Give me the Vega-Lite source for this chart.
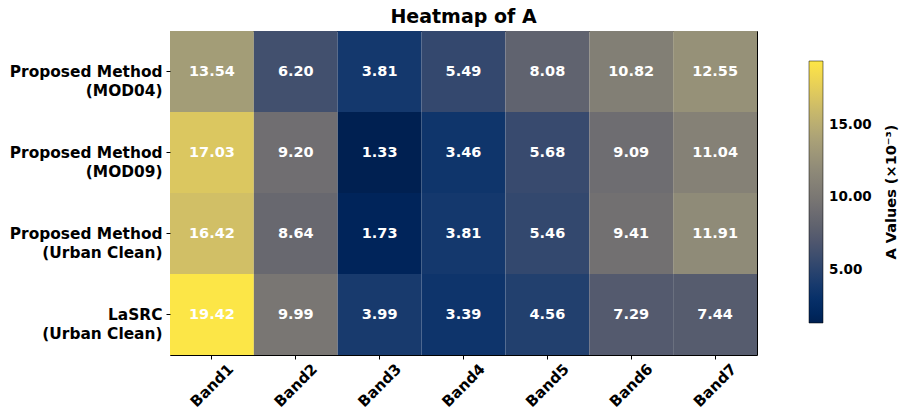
{
  "$schema": "https://vega.github.io/schema/vega-lite/v6.json",
  "autosize": {"type": "none"},
  "padding": {"left": 170, "top": 31, "right": 144, "bottom": 63},
  "width": 587,
  "height": 324,
  "background": "white",
  "title": {
    "text": "Heatmap of A",
    "font": "DejaVu Sans",
    "fontSize": 19,
    "fontWeight": "bold",
    "color": "black",
    "offset": 4,
    "anchor": "middle"
  },
  "config": {
    "view": {"stroke": "black", "strokeWidth": 1},
    "font": "DejaVu Sans"
  },
  "data": {
    "values": [
      {"method": "Proposed Method\n(MOD04)", "band": "Band1", "value": 13.54},
      {"method": "Proposed Method\n(MOD04)", "band": "Band2", "value": 6.20},
      {"method": "Proposed Method\n(MOD04)", "band": "Band3", "value": 3.81},
      {"method": "Proposed Method\n(MOD04)", "band": "Band4", "value": 5.49},
      {"method": "Proposed Method\n(MOD04)", "band": "Band5", "value": 8.08},
      {"method": "Proposed Method\n(MOD04)", "band": "Band6", "value": 10.82},
      {"method": "Proposed Method\n(MOD04)", "band": "Band7", "value": 12.55},
      {"method": "Proposed Method\n(MOD09)", "band": "Band1", "value": 17.03},
      {"method": "Proposed Method\n(MOD09)", "band": "Band2", "value": 9.20},
      {"method": "Proposed Method\n(MOD09)", "band": "Band3", "value": 1.33},
      {"method": "Proposed Method\n(MOD09)", "band": "Band4", "value": 3.46},
      {"method": "Proposed Method\n(MOD09)", "band": "Band5", "value": 5.68},
      {"method": "Proposed Method\n(MOD09)", "band": "Band6", "value": 9.09},
      {"method": "Proposed Method\n(MOD09)", "band": "Band7", "value": 11.04},
      {"method": "Proposed Method\n(Urban Clean)", "band": "Band1", "value": 16.42},
      {"method": "Proposed Method\n(Urban Clean)", "band": "Band2", "value": 8.64},
      {"method": "Proposed Method\n(Urban Clean)", "band": "Band3", "value": 1.73},
      {"method": "Proposed Method\n(Urban Clean)", "band": "Band4", "value": 3.81},
      {"method": "Proposed Method\n(Urban Clean)", "band": "Band5", "value": 5.46},
      {"method": "Proposed Method\n(Urban Clean)", "band": "Band6", "value": 9.41},
      {"method": "Proposed Method\n(Urban Clean)", "band": "Band7", "value": 11.91},
      {"method": "LaSRC\n(Urban Clean)", "band": "Band1", "value": 19.42},
      {"method": "LaSRC\n(Urban Clean)", "band": "Band2", "value": 9.99},
      {"method": "LaSRC\n(Urban Clean)", "band": "Band3", "value": 3.99},
      {"method": "LaSRC\n(Urban Clean)", "band": "Band4", "value": 3.39},
      {"method": "LaSRC\n(Urban Clean)", "band": "Band5", "value": 4.56},
      {"method": "LaSRC\n(Urban Clean)", "band": "Band6", "value": 7.29},
      {"method": "LaSRC\n(Urban Clean)", "band": "Band7", "value": 7.44}
    ]
  },
  "encoding": {
    "x": {
      "field": "band",
      "type": "nominal",
      "sort": null,
      "scale": {"paddingInner": 0, "paddingOuter": 0},
      "axis": {
        "title": null,
        "labelAngle": -45,
        "labelAlign": "center",
        "labelBaseline": "middle",
        "labelFont": "DejaVu Sans",
        "labelFontSize": 15,
        "labelFontWeight": "bold",
        "labelColor": "black",
        "labelPadding": 26,
        "tickColor": "black",
        "tickSize": 4,
        "domain": false,
        "grid": false
      }
    },
    "y": {
      "field": "method",
      "type": "nominal",
      "sort": null,
      "scale": {"paddingInner": 0, "paddingOuter": 0},
      "axis": {
        "title": null,
        "labelExpr": "split(datum.label, '\\n')",
        "labelAlign": "right",
        "labelBaseline": "middle",
        "labelFont": "DejaVu Sans",
        "labelFontSize": 15.4,
        "labelFontWeight": "bold",
        "labelColor": "black",
        "labelLineHeight": 19,
        "labelPadding": 4,
        "labelLimit": 300,
        "tickColor": "black",
        "tickSize": 4,
        "domain": false,
        "grid": false
      }
    }
  },
  "layer": [
    {
      "mark": {"type": "rect"},
      "encoding": {
        "color": {
          "field": "value",
          "type": "quantitative",
          "scale": {"scheme": "cividis", "domain": [1.33, 19.42]},
          "legend": {
            "title": "A Values (×10⁻³)",
            "orient": "none",
            "legendX": 639,
            "legendY": 30,
            "direction": "vertical",
            "gradientLength": 262,
            "gradientThickness": 14,
            "gradientStrokeColor": "black",
            "gradientStrokeWidth": 0.5,
            "values": [5, 10, 15],
            "format": ".2f",
            "labelFont": "DejaVu Sans",
            "labelFontSize": 13.5,
            "labelFontWeight": "bold",
            "labelColor": "black",
            "labelOffset": 6,
            "titleFont": "DejaVu Sans",
            "titleFontSize": 14.5,
            "titleFontWeight": "bold",
            "titleColor": "black",
            "titleOrient": "right",
            "titlePadding": 13,
            "titleAnchor": "middle",
            "encode": {
              "title": {"update": {"angle": {"value": -90}, "baseline": {"value": "top"}}}
            }
          }
        }
      }
    },
    {
      "mark": {
        "type": "text",
        "font": "DejaVu Sans",
        "fontSize": 14.5,
        "fontWeight": "bold",
        "color": "white"
      },
      "encoding": {
        "text": {"field": "value", "type": "quantitative", "format": ".2f"}
      }
    }
  ]
}
